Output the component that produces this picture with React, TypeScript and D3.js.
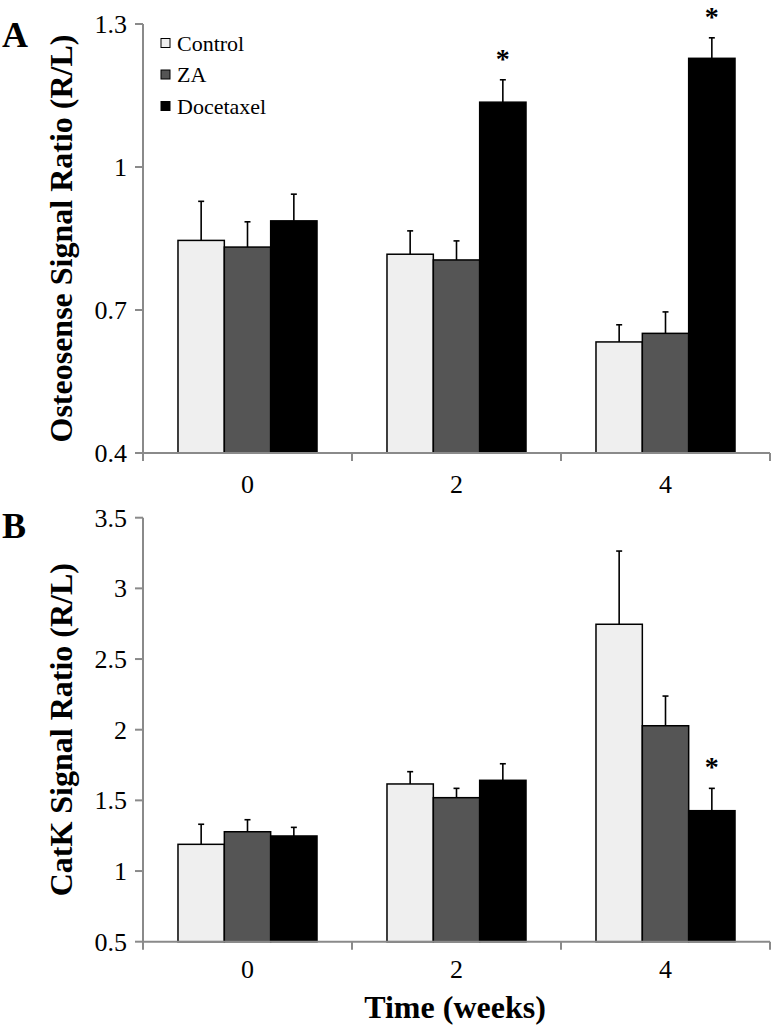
import * as d3 from 'd3';

const weeks = ['0', '2', '4'];
const groups = ['Control', 'ZA', 'Docetaxel'];
const groupColors = ['#efefef', '#555555', '#000000'];

// Panel A - Osteosense
const osteoControl = [0.846, 0.817, 0.633];
const osteoZA = [0.832, 0.805, 0.651];
const osteoDoc = [0.887, 1.136, 1.228];
const osteoControlErr = [0.082, 0.049, 0.036];
const osteoZAErr = [0.053, 0.04, 0.045];
const osteoDocErr = [0.056, 0.047, 0.043];
const osteoStars = [[], [], [1, 2]];
const osteoTicks = [0.4, 0.7, 1, 1.3];

// Panel B - CatK
const catkControl = [1.189, 1.616, 2.746];
const catkZA = [1.278, 1.519, 2.028];
const catkDoc = [1.248, 1.642, 1.427];
const catkControlErr = [0.142, 0.087, 0.518];
const catkZAErr = [0.085, 0.066, 0.21];
const catkDocErr = [0.061, 0.117, 0.158];
const catkStars = [[], [], [2]];
const catkTicks = [0.5, 1, 1.5, 2, 2.5, 3, 3.5];

const FONT = "'Times New Roman', 'Liberation Serif', Times, 'DejaVu Serif', serif";
const AXIS = '#8a8a8a';

type PanelProps = {
  letter: string;
  letterY: number;
  label: string;
  means: number[][];
  errs: number[][];
  stars: number[][];
  ticks: number[];
  top: number;
  bottom: number;
  tickLabelY: number;
  legend?: boolean;
};

const Panel = (p: PanelProps) => {
  const x0 = d3.scaleBand().domain(weeks).range([143, 770]).paddingInner(0).paddingOuter(0);
  const x1 = d3
    .scaleBand()
    .domain(groups)
    .range([0, x0.bandwidth()])
    .paddingInner(0)
    .paddingOuter(0.755);
  const y = d3
    .scaleLinear()
    .domain([p.ticks[0], p.ticks[p.ticks.length - 1]])
    .range([p.bottom, p.top]);
  const fmt = (v: number) => String(v);

  return (
    <g>
      <text x={2} y={p.letterY} fontWeight="bold" fontSize={36}>
        {p.letter}
      </text>
      <text
        transform={`translate(72, ${(p.top + p.bottom) / 2}) rotate(-90)`}
        textAnchor="middle"
        fontWeight="bold"
        fontSize={32}
      >
        {p.label}
      </text>

      {/* bars */}
      {groups.map((g, gi) =>
        weeks.map((w, wi) => {
          const v = p.means[gi][wi];
          const e = p.errs[gi][wi];
          const bx = (x0(w) ?? 0) + (x1(g) ?? 0);
          const cx = bx + x1.bandwidth() / 2;
          return (
            <g key={`${g}-${w}`}>
              <line x1={cx} x2={cx} y1={y(v)} y2={y(v + e)} stroke="#000" strokeWidth={1.6} />
              <line x1={cx - 3} x2={cx + 3} y1={y(v + e)} y2={y(v + e)} stroke="#000" strokeWidth={1.6} />
              <rect
                x={bx}
                y={y(v)}
                width={x1.bandwidth()}
                height={y(p.ticks[0]) - y(v)}
                fill={groupColors[gi]}
                stroke="#000"
                strokeWidth={1.5}
              />
              {p.stars[gi].includes(wi) ? (
                <text x={cx} y={y(v + e) - 12} textAnchor="middle" fontWeight="bold" fontSize={28}>
                  *
                </text>
              ) : null}
            </g>
          );
        })
      )}

      {/* y axis */}
      <line x1={143} x2={143} y1={p.top} y2={p.bottom} stroke={AXIS} strokeWidth={2} />
      {p.ticks.map((t) => (
        <g key={t}>
          <line x1={135} x2={143} y1={y(t)} y2={y(t)} stroke={AXIS} strokeWidth={2} />
          <text x={127} y={y(t)} dy="0.35em" textAnchor="end" fontSize={26}>
            {fmt(t)}
          </text>
        </g>
      ))}

      {/* x axis */}
      <line x1={143} x2={770} y1={p.bottom} y2={p.bottom} stroke={AXIS} strokeWidth={2} />
      {[...weeks.map((w) => x0(w) ?? 0), 770].map((tx, i) => (
        <line key={i} x1={tx} x2={tx} y1={p.bottom} y2={p.bottom + 8} stroke={AXIS} strokeWidth={2} />
      ))}
      {weeks.map((w) => (
        <text
          key={w}
          x={(x0(w) ?? 0) + x0.bandwidth() / 2}
          y={p.tickLabelY}
          textAnchor="middle"
          fontSize={26}
        >
          {w}
        </text>
      ))}

      {p.legend
        ? groups.map((g, gi) => (
            <g key={g} transform={`translate(161, ${43 + gi * 31.5})`}>
              <rect x={0} y={-4.5} width={9} height={9} fill={groupColors[gi]} stroke="#000" strokeWidth={1} />
              <text x={16} y={7.5} fontSize={22}>
                {g}
              </text>
            </g>
          ))
        : null}
    </g>
  );
};

const App = () => {
  return (
    <svg
      width={773}
      height={1026}
      fontFamily={FONT}
      style={{ position: 'absolute', left: 0, top: 0, background: '#fff' }}
    >
      <rect width={773} height={1026} fill="#fff" />
      <Panel
        letter="A"
        letterY={47}
        label="Osteosense Signal Ratio (R/L)"
        means={[osteoControl, osteoZA, osteoDoc]}
        errs={[osteoControlErr, osteoZAErr, osteoDocErr]}
        stars={osteoStars}
        ticks={osteoTicks}
        top={24}
        bottom={453}
        tickLabelY={493}
        legend
      />
      <Panel
        letter="B"
        letterY={538}
        label="CatK Signal Ratio (R/L)"
        means={[catkControl, catkZA, catkDoc]}
        errs={[catkControlErr, catkZAErr, catkDocErr]}
        stars={catkStars}
        ticks={catkTicks}
        top={517.7}
        bottom={941.7}
        tickLabelY={978}
      />
      <text x={455} y={1018} textAnchor="middle" fontWeight="bold" fontSize={32}>
        Time (weeks)
      </text>
    </svg>
  );
};

export default App;
